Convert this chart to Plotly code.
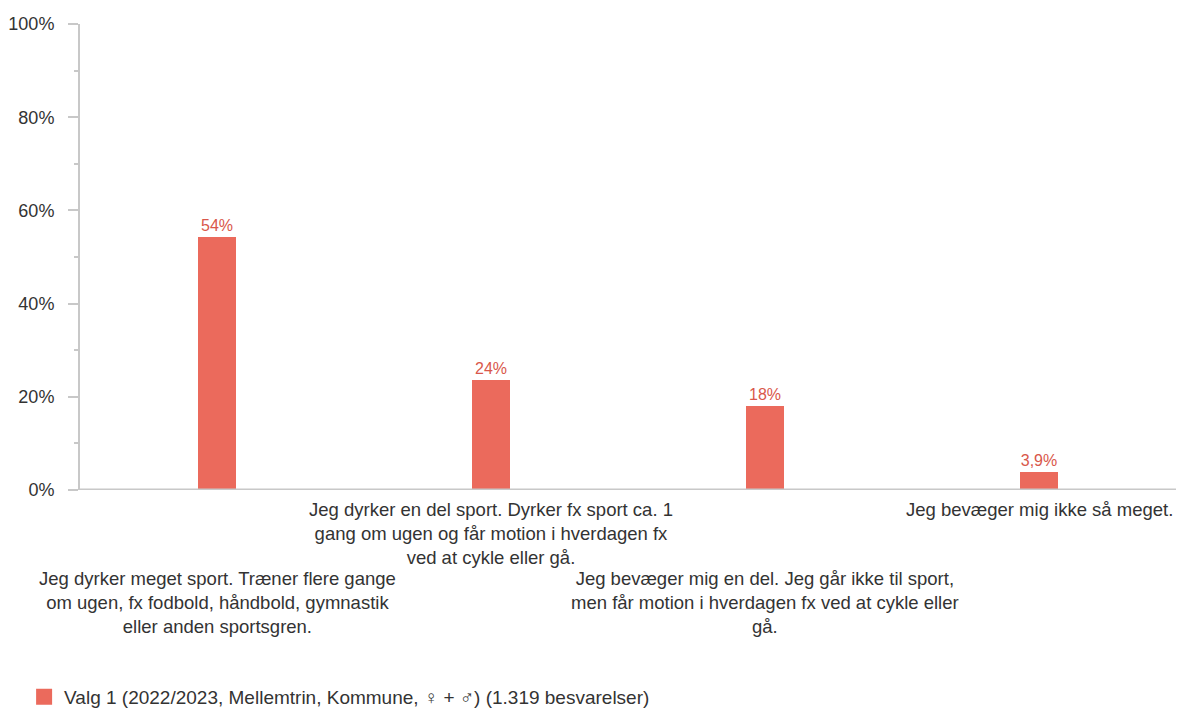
import plotly.graph_objects as go

# data
categories = [
    "Jeg dyrker meget sport. Træner flere gange<br>om ugen, fx fodbold, håndbold, gymnastik<br>eller anden sportsgren.",
    "Jeg dyrker en del sport. Dyrker fx sport ca. 1<br>gang om ugen og får motion i hverdagen fx<br>ved at cykle eller gå.",
    "Jeg bevæger mig en del. Jeg går ikke til sport,<br>men får motion i hverdagen fx ved at cykle eller<br>gå.",
    "Jeg bevæger mig ikke så meget.",
]
values = [54.3, 23.5, 18.0, 3.9]
value_labels = ["54%", "24%", "18%", "3,9%"]
series_name = "Valg 1 (2022/2023, Mellemtrin, Kommune, ♀ + ♂) (1.319 besvarelser)"
y_ticks = [0, 20, 40, 60, 80, 100]
y_tick_labels = ["0%", "20%", "40%", "60%", "80%", "100%"]

bar_color = "#EB6A5C"
font_family = "Liberation Sans, Arial, sans-serif"

x_pos = list(range(len(categories)))

fig = go.Figure()
fig.add_trace(go.Bar(
    x=x_pos,
    y=values,
    width=0.14,
    marker=dict(color=bar_color, line=dict(width=0)),
    text=value_labels,
    textposition="outside",
    textfont=dict(color="#D9574B", size=16, family=font_family),
    cliponaxis=False,
    showlegend=False,
))

# legend entry with a bigger square
fig.add_trace(go.Scatter(
    x=[None], y=[None], mode="markers",
    marker=dict(symbol="square", size=20, color=bar_color),
    name=series_name, showlegend=True,
))

# staggered category labels
for i, cat in enumerate(categories):
    fig.add_annotation(
        x=i, xref="x",
        y=-0.014 if i % 2 == 1 else -0.163, yref="paper",
        yanchor="top", xanchor="center",
        text=cat, showarrow=False, align="center",
        font=dict(size=18.5, color="#333333", family=font_family),
    )

fig.update_layout(
    width=1178, height=708,
    margin=dict(l=80, r=2, t=24, b=218, autoexpand=False),
    paper_bgcolor="white", plot_bgcolor="white",
    font=dict(family=font_family, size=18, color="#333333"),
    bargap=0,
    showlegend=True,
    legend=dict(
        orientation="h", x=-0.051, xanchor="left",
        y=-0.444, yanchor="middle",
        font=dict(size=19, color="#333333"),
        itemsizing="trace",
    ),
    xaxis=dict(
        range=[-0.5, 3.5],
        showticklabels=False, showgrid=False, zeroline=False,
        showline=False, ticks="",
    ),
    yaxis=dict(
        range=[0, 100], automargin=False,
        tickvals=y_ticks, ticktext=y_tick_labels,
        showgrid=False, zeroline=False,
        showline=True, linecolor="#C8C8C8", linewidth=2,
        ticks="outside", ticklen=10, tickcolor="#C8C8C8", tickwidth=2,
        ticklabelstandoff=10,
        minor=dict(dtick=10, ticks="outside", ticklen=4, tickcolor="#C8C8C8", tickwidth=2),
        tickfont=dict(size=18, color="#333333"),
    ),
    shapes=[dict(
        type="line", xref="paper", yref="y",
        x0=0, x1=1, y0=0, y1=0,
        line=dict(color="#C8C8C8", width=3),
    )],
)

# drop the default body margin so the figure fills the window exactly
fig.write_html(
    "out.html",
    config={"displayModeBar": False},
    post_script="document.body.style.margin='0';document.body.style.overflow='hidden';",
)
